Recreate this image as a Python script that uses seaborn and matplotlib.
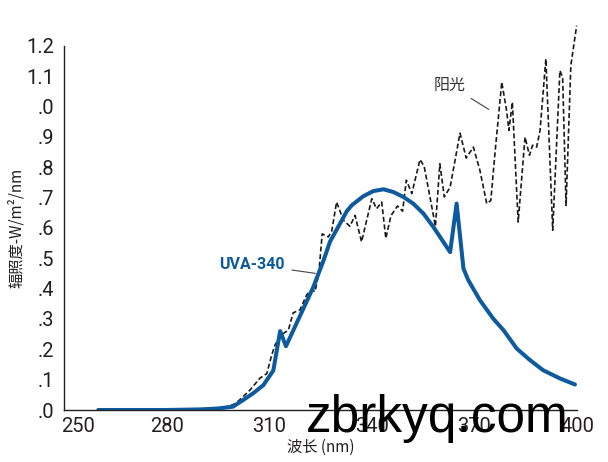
import matplotlib
matplotlib.use('Agg')
import matplotlib.pyplot as plt
import matplotlib.transforms as mtransforms
import pandas as pd
import seaborn as sns

# UVA-340 lamp spectrum
uva_nm = [260, 270, 280, 290, 295, 299.4, 302.4, 305.3, 308.3, 311.2, 313.2, 314.9,
          319, 322.9, 325.8, 327.8, 330.7, 332.7, 334.1, 337.5, 340.4, 343.4, 346.3,
          349.2, 352.1, 355.1, 358, 360.9, 362.9,
          364.8, 366.8, 368.2, 371.6, 375.5, 378.5, 382.4, 386.3, 390.1, 395, 399.4]
uva_val = [0, 0, 0, 0.002, 0.005, 0.011, 0.033, 0.055, 0.082, 0.13, 0.26, 0.21,
           0.31, 0.405, 0.49, 0.555, 0.614, 0.655, 0.674, 0.704, 0.721, 0.727, 0.718,
           0.702, 0.68, 0.647, 0.603, 0.554, 0.52,
           0.68, 0.466, 0.428, 0.362, 0.301, 0.263, 0.202, 0.164, 0.131, 0.104, 0.084]

# sunlight spectrum
sun_nm = [290, 296, 300, 302, 304.4, 307.3, 309.3, 310.7, 311.7, 313, 314.5, 315.6,
          317, 319, 321, 322.4, 323.4, 324.5, 325.5, 327.3, 328.3, 329.7, 331.7,
          333.6, 335.1, 337, 340, 341.4, 342.9, 344.1, 345.6, 347.5, 349, 350.1,
          351.7, 354.1, 355.3, 356.7, 358.6, 359.9, 361.2, 362.9, 365.8, 367.6,
          369.7, 371.6, 373.6, 374.8, 376, 378, 379.4, 380.1, 381.1, 382.8, 384.8,
          386.1, 387, 388.2, 389.2, 390.9, 392.9, 395, 395.8, 396.8, 398.2, 399.9]
sun_val = [0.0, 0.005, 0.02, 0.04, 0.066, 0.105, 0.12, 0.18, 0.214, 0.24, 0.255, 0.263,
           0.32, 0.33, 0.38, 0.395, 0.39, 0.45, 0.58, 0.57, 0.59, 0.685, 0.625,
           0.605, 0.641, 0.554, 0.696, 0.663, 0.685, 0.565, 0.64, 0.672, 0.655, 0.757,
           0.713, 0.825, 0.803, 0.72, 0.605, 0.811, 0.702, 0.734, 0.912, 0.83,
           0.866, 0.79, 0.68, 0.69, 0.844, 1.08, 0.987, 0.921, 1.014, 0.619, 0.899,
           0.839, 0.872, 0.866, 0.921, 1.157, 0.592, 1.118, 1.096, 0.674, 1.135, 1.266]

x_ticks = list(range(250, 401, 10))
x_labels = ['250', '', '', '280', '', '', '310', '', '', '340', '', '', '370', '', '', '400']
y_ticks = [i / 10 for i in range(13)]
y_labels = ['.0', '.1', '.2', '.3', '.4', '.5', '.6', '.7', '.8', '.9', '.0', '1.1', '1.2']

sns.set_style('white')
plt.rcParams['font.family'] = ['Noto Sans CJK SC', 'DejaVu Sans']

uva = pd.DataFrame({'nm': uva_nm, 'val': uva_val})
sun = pd.DataFrame({'nm': sun_nm, 'val': sun_val})

fig = plt.figure(figsize=(6.08, 4.62), dpi=100)
ax = fig.add_axes([64 / 608, 52 / 462, 513 / 608, 364.3 / 462])

sns.lineplot(data=sun, x='nm', y='val', ax=ax, color='#1a1a1a', linewidth=1.2,
             estimator=None, clip_on=False)
ax.lines[-1].set_dashes([3, 1.6])
sns.lineplot(data=uva, x='nm', y='val', ax=ax, color='#0d5a9e', linewidth=2.9,
             estimator=None, solid_capstyle='round', solid_joinstyle='round')

ax.set_xlim(250, 400)
ax.set_ylim(0, 1.2)
ax.set_xticks(x_ticks)
ax.set_xticklabels(x_labels, family='Roboto', fontsize=14.5, color='#231f20')
ax.set_yticks(y_ticks)
ax.set_yticklabels(y_labels, family='Roboto', fontsize=14.5, color='#231f20')
ax.tick_params(axis='x', direction='in', length=9, width=1, color='#231f20', pad=5)
ax.tick_params(axis='y', direction='in', length=13, width=1, color='#231f20', pad=7)

# first x label sits right of the corner
lab0 = ax.get_xticklabels()[0]
lab0.set_transform(lab0.get_transform() + mtransforms.ScaledTranslation(14 / 100, 0, fig.dpi_scale_trans))

for s in ['top', 'right']:
    ax.spines[s].set_visible(False)
for s in ['left', 'bottom']:
    ax.spines[s].set_color('#231f20')
    ax.spines[s].set_linewidth(1)

ax.set_xlabel('波长 (nm)', fontsize=11, color='#231f20', labelpad=2)
ax.set_ylabel('辐照度-W/m²/nm', fontsize=11, color='#231f20', labelpad=1)

# callouts
ax.annotate('阳光', xy=(374.2, 0.99), xytext=(367.5, 1.07), fontsize=11.5, color='#333333',
            ha='right', va='center',
            arrowprops=dict(arrowstyle='-', color='#444444', lw=0.8, shrinkA=2, shrinkB=0))
ax.annotate('UVA-340', xy=(323.5, 0.45), xytext=(314.5, 0.48),
            fontsize=11.5, color='#0d5a9e', fontweight='bold', family='Roboto',
            ha='right', va='center',
            arrowprops=dict(arrowstyle='-', color='#444444', lw=0.8, shrinkA=3, shrinkB=0))

fig.text(437 / 608, 1 - 432 / 462, 'zbrkyq.com', family='Liberation Sans', fontsize=37,
         color='black', ha='center', va='baseline', zorder=10)

fig.savefig('out.png', dpi=100)
